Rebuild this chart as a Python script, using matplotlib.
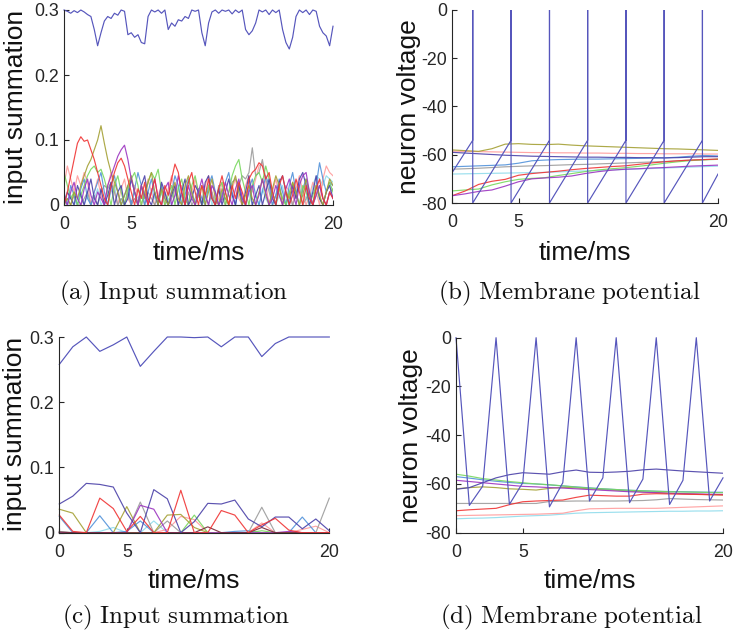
import numpy as np
import matplotlib
matplotlib.use("Agg")
import matplotlib.pyplot as plt

plt.rcParams['font.family'] = ['Liberation Sans', 'DejaVu Sans']
plt.rcParams['mathtext.fontset'] = 'cm'

# colours of the neuron traces
C_BLUE = '#5656bc'
C_RED = '#f03434'
C_OLIVE = '#a4a034'
C_PURPLE = '#9c34c0'
C_GREEN = '#78d85e'
C_STEEL = '#5292da'
C_GREY = '#9c9c9c'
C_PINK = '#ff9c9c'
C_CYAN = '#90dcec'
C_NAVY = '#4a40a8'
C_MAROON = '#7a2838'

x_ticks = [0, 5, 20]

# ---- (a) input summation, fine time step (0.25 ms) ----
blue_a = [0.300, 0.298, 0.295, 0.299, 0.296, 0.300, 0.297, 0.293, 0.290, 0.270, 0.245, 0.265, 0.283,
          0.290, 0.287, 0.295, 0.292, 0.300, 0.298, 0.262, 0.265, 0.258, 0.262, 0.250, 0.248, 0.290,
          0.300, 0.297, 0.300, 0.295, 0.300, 0.270, 0.280, 0.275, 0.285, 0.283, 0.290, 0.287, 0.300,
          0.298, 0.300, 0.265, 0.245, 0.280, 0.297, 0.300, 0.295, 0.300, 0.298, 0.300, 0.294, 0.300,
          0.296, 0.300, 0.270, 0.262, 0.268, 0.280, 0.300, 0.297, 0.300, 0.293, 0.300, 0.296, 0.300,
          0.270, 0.250, 0.240, 0.258, 0.290, 0.300, 0.296, 0.300, 0.293, 0.300, 0.298, 0.275, 0.265,
          0.260, 0.245, 0.275]
red_a = [0.0, 0.02, 0.045, 0.07, 0.095, 0.105, 0.098, 0.1, 0.085, 0.07, 0.05, 0.03, 0.01, 0.0, 0.03,
         0.05, 0.065, 0.072, 0.06, 0.04, 0.02, 0.0, 0.025, 0.01, 0.035, 0.0, 0.02, 0.04, 0.01, 0.0,
         0.03, 0.015, 0.04, 0.063, 0.05, 0.02, 0.0, 0.035, 0.05, 0.02, 0.0, 0.03, 0.015, 0.04, 0.01,
         0.0, 0.025, 0.045, 0.02, 0.0, 0.03, 0.01, 0.035, 0.02, 0.0, 0.04, 0.05, 0.055, 0.065, 0.06,
         0.04, 0.05, 0.02, 0.0, 0.03, 0.045, 0.02, 0.0, 0.015, 0.04, 0.02, 0.0, 0.03, 0.01, 0.0, 0.025,
         0.04, 0.01, 0.0, 0.02, 0.01]
olive_a = [0.0, 0.01, 0.0, 0.02, 0.01, 0.03, 0.045, 0.06, 0.07, 0.085, 0.1, 0.122, 0.095, 0.07, 0.05,
           0.035, 0.02, 0.0, 0.015, 0.03, 0.045, 0.02, 0.0, 0.03, 0.01, 0.035, 0.05, 0.02, 0.0, 0.025,
           0.01, 0.0, 0.02, 0.035, 0.01, 0.0, 0.03, 0.045, 0.02, 0.0, 0.015, 0.03, 0.0, 0.02, 0.04,
           0.01, 0.0, 0.025, 0.01, 0.0, 0.03, 0.045, 0.02, 0.0, 0.015, 0.03, 0.01, 0.0, 0.02, 0.04,
           0.015, 0.0, 0.025, 0.045, 0.03, 0.0, 0.02, 0.01, 0.035, 0.02, 0.0, 0.015, 0.04, 0.02, 0.0,
           0.03, 0.015, 0.0, 0.02, 0.04, 0.03]
purple_a = [0.01, 0.0, 0.02, 0.035, 0.01, 0.0, 0.025, 0.04, 0.015, 0.0, 0.02, 0.01, 0.0, 0.03, 0.045,
            0.06, 0.075, 0.085, 0.092, 0.07, 0.04, 0.02, 0.0, 0.03, 0.015, 0.0, 0.02, 0.04, 0.01, 0.0,
            0.025, 0.035, 0.0, 0.015, 0.045, 0.02, 0.0, 0.03, 0.01, 0.0, 0.02, 0.04, 0.015, 0.0, 0.03,
            0.02, 0.0, 0.01, 0.035, 0.015, 0.0, 0.025, 0.04, 0.01, 0.0, 0.02, 0.03, 0.0, 0.015, 0.04,
            0.02, 0.0, 0.01, 0.03, 0.015, 0.0, 0.025, 0.04, 0.02, 0.0, 0.03, 0.045, 0.05, 0.02, 0.0,
            0.015, 0.03, 0.01, 0.0, 0.02, 0.01]
green_a = [0.05, 0.03, 0.01, 0.02, 0.0, 0.015, 0.03, 0.045, 0.055, 0.06, 0.05, 0.055, 0.04, 0.02, 0.0,
           0.03, 0.045, 0.02, 0.0, 0.025, 0.04, 0.05, 0.03, 0.0, 0.02, 0.035, 0.05, 0.04, 0.055, 0.02,
           0.0, 0.015, 0.03, 0.0, 0.025, 0.04, 0.01, 0.0, 0.03, 0.045, 0.02, 0.0, 0.015, 0.03, 0.01,
           0.0, 0.025, 0.035, 0.0, 0.02, 0.045, 0.06, 0.07, 0.04, 0.02, 0.0, 0.03, 0.045, 0.05, 0.035,
           0.06, 0.04, 0.02, 0.0, 0.025, 0.01, 0.0, 0.02, 0.035, 0.015, 0.0, 0.03, 0.02, 0.0, 0.015,
           0.03, 0.01, 0.0, 0.02, 0.035, 0.02]
steel_a = [0.02, 0.0, 0.03, 0.015, 0.0, 0.025, 0.04, 0.01, 0.0, 0.02, 0.035, 0.05, 0.02, 0.0, 0.03,
           0.045, 0.02, 0.0, 0.015, 0.03, 0.0, 0.025, 0.05, 0.03, 0.0, 0.02, 0.04, 0.015, 0.0, 0.03,
           0.01, 0.0, 0.02, 0.045, 0.03, 0.0, 0.015, 0.04, 0.02, 0.0, 0.025, 0.01, 0.0, 0.03, 0.045,
           0.02, 0.0, 0.015, 0.035, 0.05, 0.02, 0.0, 0.03, 0.01, 0.0, 0.025, 0.04, 0.015, 0.0, 0.02,
           0.045, 0.03, 0.0, 0.015, 0.04, 0.02, 0.0, 0.03, 0.05, 0.02, 0.0, 0.025, 0.04, 0.01, 0.0,
           0.03, 0.065, 0.04, 0.02, 0.035, 0.03]
grey_a = [0.0, 0.01, 0.0, 0.015, 0.0, 0.0, 0.01, 0.02, 0.0, 0.015, 0.0, 0.02, 0.03, 0.025, 0.035, 0.02,
          0.0, 0.01, 0.0, 0.02, 0.0, 0.01, 0.0, 0.015, 0.0, 0.02, 0.01, 0.0, 0.015, 0.0, 0.02, 0.0,
          0.01, 0.025, 0.0, 0.015, 0.0, 0.02, 0.0, 0.01, 0.025, 0.0, 0.015, 0.0, 0.02, 0.0, 0.03, 0.01,
          0.0, 0.02, 0.035, 0.04, 0.03, 0.045, 0.04, 0.05, 0.088, 0.045, 0.05, 0.07, 0.04, 0.02, 0.0,
          0.015, 0.03, 0.01, 0.0, 0.02, 0.0, 0.015, 0.03, 0.0, 0.01, 0.02, 0.0, 0.015, 0.03, 0.01, 0.0,
          0.02, 0.025]
pink_a = [0.03, 0.06, 0.04, 0.02, 0.045, 0.03, 0.05, 0.035, 0.0, 0.02, 0.04, 0.015, 0.0, 0.03, 0.05,
          0.02, 0.0, 0.025, 0.04, 0.01, 0.0, 0.03, 0.015, 0.0, 0.02, 0.04, 0.02, 0.0, 0.015, 0.03, 0.0,
          0.025, 0.045, 0.02, 0.0, 0.03, 0.01, 0.0, 0.02, 0.04, 0.015, 0.0, 0.03, 0.045, 0.02, 0.0,
          0.01, 0.035, 0.02, 0.0, 0.025, 0.04, 0.01, 0.0, 0.03, 0.045, 0.02, 0.04, 0.06, 0.065, 0.035,
          0.0, 0.02, 0.04, 0.015, 0.0, 0.03, 0.02, 0.0, 0.025, 0.045, 0.02, 0.0, 0.015, 0.035, 0.02,
          0.0, 0.04, 0.06, 0.05, 0.045]
cyan_a = [0.01, 0.0, 0.015, 0.0, 0.01, 0.02, 0.0, 0.015, 0.0, 0.01, 0.025, 0.0, 0.01, 0.0, 0.02, 0.03,
          0.0, 0.01, 0.0, 0.015, 0.0, 0.02, 0.01, 0.0, 0.015, 0.0, 0.025, 0.01, 0.0, 0.02, 0.0, 0.01,
          0.0, 0.015, 0.03, 0.0, 0.01, 0.0, 0.02, 0.0, 0.015, 0.0, 0.01, 0.025, 0.0, 0.015, 0.0, 0.02,
          0.01, 0.0, 0.015, 0.0, 0.03, 0.01, 0.0, 0.02, 0.0, 0.015, 0.0, 0.025, 0.01, 0.0, 0.02, 0.0,
          0.015, 0.03, 0.0, 0.01, 0.0, 0.02, 0.035, 0.02, 0.01, 0.0, 0.03, 0.045, 0.04, 0.03, 0.045,
          0.04, 0.035]
navy_a = [0.0, 0.02, 0.01, 0.0, 0.03, 0.015, 0.0, 0.02, 0.04, 0.01, 0.0, 0.025, 0.0, 0.015, 0.035, 0.0,
          0.02, 0.03, 0.0, 0.01, 0.04, 0.02, 0.0, 0.03, 0.045, 0.01, 0.0, 0.02, 0.0, 0.035, 0.02, 0.0,
          0.015, 0.03, 0.0, 0.02, 0.04, 0.0, 0.01, 0.03, 0.02, 0.0, 0.035, 0.045, 0.01, 0.0, 0.025, 0.0,
          0.02, 0.04, 0.015, 0.0, 0.03, 0.0, 0.02, 0.045, 0.0, 0.015, 0.03, 0.0, 0.02, 0.04, 0.01, 0.0,
          0.035, 0.045, 0.02, 0.0, 0.03, 0.01, 0.04, 0.05, 0.03, 0.0, 0.02, 0.045, 0.01, 0.0, 0.02,
          0.03, 0.01]

# ---- (b) membrane potential, fine time step ----
spike_times_b = [1.56, 4.44, 7.33, 10.2, 13.08, 15.95, 18.83]
v_start_b, v_thresh_b, v_reset_b, v_end_b, v_peak_b = -67.5, -54.0, -80.0, -68.0, 0.0
olive_b = [-58, -58.3, -58.6, -57.5, -55.6, -55.4, -55.7, -55.8, -55.6, -56, -56.3, -56.5, -56.7,
           -56.9, -57.1, -57.3, -57.5, -57.6, -57.8, -58, -58.2]
pink_b = [-58.5, -58.6, -58.7, -58.8, -58.9, -59, -59.1, -59.1, -59.2, -59.2, -59.3, -59.3, -59.4,
          -59.4, -59.5, -59.5, -59.6, -59.6, -59.6, -59.7, -59.7]
navy_b = [-59, -59.3, -59.6, -59.9, -60.2, -60.4, -60.6, -60.7, -60.8, -60.9, -61, -61, -61.1,
          -61.1, -61.2, -61.2, -61.3, -61.2, -61, -60.8, -60.8]
steel_b = [-65, -64.8, -64.6, -64.4, -64.2, -63.5, -62.5, -62.2, -62, -61.9, -61.8, -61.8, -61.7,
           -61.6, -61.5, -61.4, -61.3, -61, -60.6, -60.3, -60.5]
grey_b = [-66, -65.8, -65.6, -65.3, -65, -64.8, -64.6, -64.5, -64.3, -64.1, -64, -63.8, -63.6,
          -63.4, -63.2, -63, -62.8, -62.5, -62.2, -62, -61.8]
cyan_b = [-68, -67.9, -67.8, -67.7, -67.6, -67.5, -67.4, -67.3, -67.1, -66.9, -66.7, -66.5, -66.3,
          -66.1, -65.9, -65.7, -65.5, -65.3, -65.1, -64.9, -64.7]
red_b = [-77, -75, -72.3, -71, -70.2, -68.5, -67.8, -67.3, -66.8, -66.2, -65.7, -65.3, -64.9, -64.6,
         -64, -63.4, -62.9, -62.5, -62.2, -62, -61.8]
green_b = [-75, -74.6, -74.2, -72.5, -71.2, -70.2, -69.8, -69.5, -68.6, -67.8, -67, -66.3, -65.8,
           -65.4, -64.8, -64.2, -63.5, -62.9, -62.4, -62.1, -61.9]
magenta_b = [-77, -76.2, -75.2, -74.6, -73, -71.2, -70, -69.6, -69.3, -68.8, -67.8, -67, -66.4, -66,
             -65.8, -65.5, -65.3, -65, -64.7, -64.5, -64.3]

# ---- (c) input summation, coarse time step (1 ms) ----
blue_c = [0.258, 0.285, 0.3, 0.278, 0.288, 0.3, 0.255, 0.278, 0.3, 0.3, 0.299, 0.3, 0.285, 0.3, 0.3,
          0.27, 0.29, 0.3, 0.3, 0.3, 0.3]
navy_c = [0.044, 0.056, 0.0756, 0.074, 0.07, 0.03, 0.0, 0.066, 0.052, 0.0, 0.017, 0.045, 0.044, 0.05,
          0.021, 0.009, 0.024, 0.024, 0.006, 0.021, 0.003]
red_c = [0.027, 0.002, 0.0, 0.053, 0.037, 0.002, 0.025, 0.0, 0.0, 0.065, 0.0, 0.0, 0.034, 0.027, 0.0,
         0.012, 0.022, 0.004, 0.0, 0.0, 0.0]
olive_c = [0.036, 0.03, 0.0, 0.0, 0.0, 0.04, 0.0, 0.0, 0.027, 0.028, 0.008, 0.0, 0.0, 0.0, 0.0, 0.0,
           0.0, 0.0, 0.0, 0.0, 0.0]
steel_c = [0.025, 0.0, 0.0, 0.026, 0.0, 0.002, 0.018, 0.0, 0.0, 0.0, 0.0, 0.0, 0.0, 0.002, 0.003, 0.0,
           0.0, 0.0, 0.024, 0.0, 0.0]
grey_c = [0.002, 0.0, 0.0, 0.0, 0.0, 0.0, 0.047, 0.0, 0.018, 0.0, 0.0, 0.0, 0.0, 0.0, 0.0, 0.039, 0.0,
          0.0, 0.0, 0.0, 0.053]
magenta_c = [0.0, 0.0, 0.0, 0.0, 0.0, 0.0, 0.042, 0.036, 0.0, 0.0, 0.0, 0.0, 0.0, 0.0, 0.0, 0.0, 0.0,
             0.002, 0.0, 0.0, 0.0]
green_c = [0.0, 0.0, 0.0, 0.0, 0.0, 0.0, 0.0, 0.0, 0.0, 0.0, 0.027, 0.0, 0.0, 0.0, 0.0, 0.003, 0.0,
           0.0, 0.0, 0.0, 0.0]
pink_c = [0.0, 0.0, 0.0, 0.0, 0.0, 0.0, 0.0, 0.0, 0.005, 0.025, 0.02, 0.0, 0.0, 0.0, 0.0, 0.015, 0.0,
          0.0, 0.005, 0.01, 0.0]
cyan_c = [0.0, 0.0, 0.0, 0.002, 0.008, 0.0, 0.0, 0.018, 0.0, 0.0, 0.0, 0.0, 0.0, 0.0, 0.0, 0.0, 0.0,
          0.0, 0.0, 0.0, 0.0]
maroon_c = [0.001, 0.0, 0.0, 0.0, 0.0, 0.0, 0.0, 0.0, 0.0, 0.0, 0.0, 0.009, 0.0, 0.0, 0.0, 0.008, 0.0,
            0.0, 0.0, 0.0, 0.0]

# ---- (d) membrane potential, coarse time step (1 ms) ----
blue_d = [0, -68.8, -60.9, 0, -68.4, -59.5, 0, -69.4, -59.5, 0, -67, -57.5, 0, -67.7, -58, 0, -68.4,
          -58.5, 0, -67, -57.5]
navy_d = [-62.2, -61.5, -59.5, -57.5, -56.2, -55.4, -55.7, -56, -55, -54.3, -55.2, -55.3, -55.1,
          -54.8, -54.2, -53.9, -54.3, -54.7, -55, -55.3, -55.6]
green_d = [-56, -56.8, -57.8, -58.4, -59, -59.5, -60, -60.3, -60.8, -61.3, -61.7, -62, -62.3, -62.6,
           -62.8, -63, -63.2, -63.3, -63.4, -63.5, -63.6]
steel_d = [-57, -57.6, -58.3, -58.9, -59.4, -59.8, -60, -60.4, -60.8, -61.2, -61.6, -62, -62.3,
           -62.6, -62.8, -63, -63.1, -63.2, -63.3, -63.4, -63.4]
magenta_d = [-58.5, -59, -59.5, -60, -60.5, -61, -61.2, -61.5, -61.7, -62, -62.3, -62.6, -62.9,
             -63.2, -63.4, -63.6, -63.8, -64, -64.1, -64.2, -64.3]
olive_d = [-62, -61.5, -61.2, -61.5, -62, -62.2, -62.5, -61.8, -61.4, -61.6, -62, -62.3, -62.6,
           -62.9, -63.2, -63.5, -63.8, -64, -64.2, -64.4, -64.5]
red_d = [-71, -70.6, -70.3, -70, -68.5, -67.3, -67, -66.8, -66.6, -65.5, -64.6, -64.8, -65, -65,
         -64.2, -64, -64.1, -64.2, -64.3, -64.4, -64.5]
grey_d = [-68, -68, -68, -68, -68, -68, -68, -67.2, -67.1, -67, -67, -67, -67, -66.9, -66.8, -66.5,
          -66, -66.2, -66.4, -66.5, -66.6]
pink_d = [-73, -72.9, -72.8, -72.7, -72.6, -72.5, -72.4, -72.2, -72, -71, -70.2, -70.1, -70, -70, -70,
          -70, -69.8, -69.6, -69.4, -69.2, -69]
cyan_d = [-74.3, -74.1, -74, -73.8, -73.5, -73.2, -73, -72.8, -72.4, -72, -71.8, -71.7, -71.6, -71.5,
          -71.4, -71.3, -71.2, -71.2, -71.1, -71.1, -71]


def tgrid(vals):
    return np.linspace(0, 20, len(vals))


def style_axes(ax, ylim, yticks, yticklabels, ylabel, ylab_xy, xlab_xy):
    ax.set_xlim(0, 20)
    ax.set_ylim(*ylim)
    ax.set_xticks(x_ticks)
    ax.set_yticks(yticks)
    ax.set_yticklabels(yticklabels)
    for s in ('top', 'right'):
        ax.spines[s].set_visible(False)
    for s in ('left', 'bottom'):
        ax.spines[s].set_color('#262626')
        ax.spines[s].set_linewidth(0.8)
    ax.tick_params(direction='in', length=3.5, width=0.8, colors='#262626', labelsize=12.8)
    ax.tick_params(axis='x', pad=8)
    ax.tick_params(axis='y', pad=3.5)
    ax.set_ylabel(ylabel, fontsize=19, color='#111111', va='center')
    ax.yaxis.set_label_coords(*ylab_xy)
    ax.set_xlabel('time/ms', fontsize=19, color='#111111', va='center')
    ax.xaxis.set_label_coords(*xlab_xy)


W, H = 733, 632
fig = plt.figure(figsize=(W / 100, H / 100), dpi=100)


def add_axes_px(left, top, right, bottom):
    return fig.add_axes([left / W, 1 - bottom / H, (right - left) / W, (bottom - top) / H])


lw = 0.85
alpha = 0.9

# (a)
ax = add_axes_px(64, 10, 333, 205)
for vals, col in [(cyan_a, C_CYAN), (pink_a, C_PINK), (grey_a, C_GREY), (steel_a, C_STEEL),
                  (green_a, C_GREEN), (navy_a, C_NAVY), (olive_a, C_OLIVE), (purple_a, C_PURPLE),
                  (red_a, C_RED)]:
    ax.plot(tgrid(vals), vals, color=col, lw=lw, alpha=alpha)
ax.plot(tgrid(blue_a), blue_a, color=C_BLUE, lw=lw, clip_on=False)
style_axes(ax, (0, 0.3), [0, 0.1, 0.2, 0.3], ['0', '0.1', '0.2', '0.3'], 'input summation',
           (-0.178, 0.503), (0.5, -0.246))

# (b)
ax = add_axes_px(452, 10, 718, 203)
for vals, col in [(cyan_b, C_CYAN), (grey_b, C_GREY), (steel_b, C_STEEL), (pink_b, C_PINK),
                  (olive_b, C_OLIVE), (navy_b, C_NAVY), (green_b, C_GREEN), (red_b, C_RED),
                  (magenta_b, C_PURPLE)]:
    ax.plot(tgrid(vals), vals, color=col, lw=lw, alpha=alpha)
t_b = [0.0]
v_b = [v_start_b]
for ts in spike_times_b:
    t_b += [ts, ts, ts]
    v_b += [v_thresh_b, v_peak_b, v_reset_b]
t_b.append(20.0)
v_b.append(v_end_b)
ax.plot(t_b, v_b, color=C_BLUE, lw=lw)
style_axes(ax, (-80, 0), [-80, -60, -40, -20, 0], ['-80', '-60', '-40', '-20', '0'],
           'neuron voltage', (-0.163, 0.497), (0.5, -0.259))

# (c)
ax = add_axes_px(59.3, 337, 329.3, 532.7)
for vals, col in [(cyan_c, C_CYAN), (pink_c, C_PINK), (steel_c, C_STEEL), (grey_c, C_GREY),
                  (green_c, C_GREEN), (olive_c, C_OLIVE), (magenta_c, C_PURPLE), (maroon_c, C_MAROON),
                  (navy_c, C_NAVY), (red_c, C_RED)]:
    ax.plot(tgrid(vals), vals, color=col, lw=lw, alpha=alpha, clip_on=False)
ax.plot(tgrid(blue_c), blue_c, color=C_BLUE, lw=lw, clip_on=False)
style_axes(ax, (0, 0.3), [0, 0.1, 0.2, 0.3], ['0', '0.1', '0.2', '0.3'], 'input summation',
           (-0.164, 0.504), (0.5, -0.247))

# (d)
ax = add_axes_px(456, 337.7, 723, 532.7)
for vals, col in [(cyan_d, C_CYAN), (pink_d, C_PINK), (grey_d, C_GREY), (olive_d, C_OLIVE),
                  (magenta_d, C_PURPLE), (steel_d, C_STEEL), (green_d, C_GREEN), (red_d, C_RED),
                  (navy_d, C_NAVY)]:
    ax.plot(tgrid(vals), vals, color=col, lw=lw, alpha=alpha)
ax.plot(tgrid(blue_d), blue_d, color=C_BLUE, lw=lw, clip_on=False)
style_axes(ax, (-80, 0), [-80, -60, -40, -20, 0], ['-80', '-60', '-40', '-20', '0'],
           'neuron voltage', (-0.169, 0.496), (0.5, -0.247))

# sub-captions
captions = [(174, 293, '(a) Input summation'), (569, 293, '(b) Membrane potential'),
            (175.5, 617.7, '(c) Input summation'), (571.6, 617.7, '(d) Membrane potential')]
for cx, cy, txt in captions:
    fig.text(cx / W, 1 - cy / H, '$\\mathrm{' + txt.replace(' ', '\\ ') + '}$',
             ha='center', va='center', fontsize=18, color='#111111')

fig.savefig('out.png', dpi=100)
